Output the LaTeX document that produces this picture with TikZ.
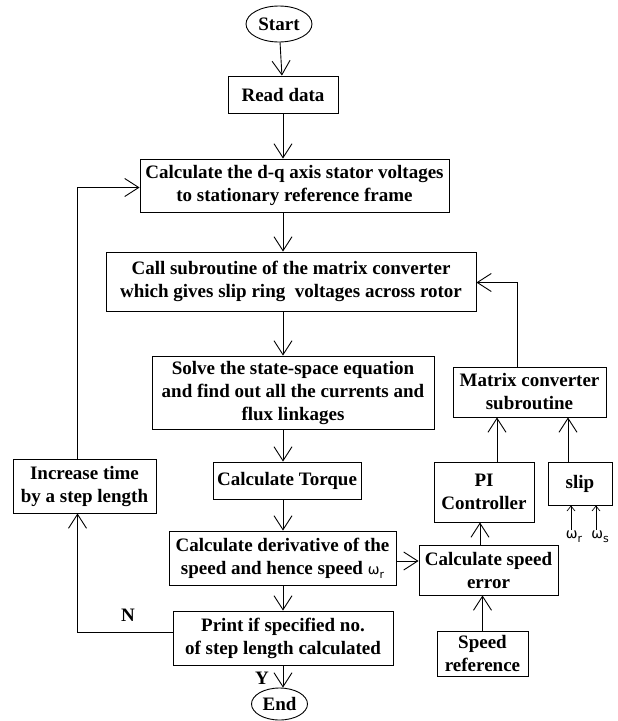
\documentclass[tikz,border=0pt]{standalone}
\usepackage{fontspec}
\setmainfont{Liberation Serif}
\newfontfamily\greekfont{DejaVu Sans}
\usetikzlibrary{positioning,arrows.meta,shapes.geometric}
\tikzset{
  flowarrow/.style={-{Straight Barb[length=14pt,width=18pt]}, line width=0.9pt},
  tinyarrow/.style={-{Straight Barb[length=5pt,width=8pt]}, line width=0.7pt},
  procbox/.style={draw, line width=0.9pt, inner sep=2pt, align=center, font=\fontsize{19}{23}\selectfont\bfseries},
  termnode/.style={draw, ellipse, line width=0.9pt, inner sep=0pt, font=\fontsize{19}{23}\selectfont\bfseries},
  yesno/.style={font=\fontsize{19}{23}\selectfont\bfseries, inner sep=0pt},
  omeganode/.style={inner sep=0pt}
}
\newcommand{\omegasub}[1]{{\greekfont\mdseries\fontsize{14}{16}\selectfont ω\raisebox{-0.5ex}{\fontsize{11}{12}\selectfont #1}}}

\begin{document}
\begin{tikzpicture}[x=1pt, y=-1pt]
  \useasboundingbox (0,0) rectangle (618,721);
  % main column
  \node[termnode, minimum width=66pt, minimum height=36pt] (start) at (279,24) {Start};
  \node[procbox, minimum width=110pt, minimum height=37pt] (read) at (283,94.5) {Read data};
  \node[procbox, minimum width=309pt, minimum height=53pt] (calcdq) at (294.5,185.5) {Calculate the d-q axis stator voltages\\to stationary reference frame};
  \node[procbox, minimum width=370pt, minimum height=59pt] (callsub) at (291,281.5) {Call subroutine of the matrix converter\\which gives slip ring\ \ voltages across rotor};
  \node[procbox, minimum width=282pt, minimum height=73pt] (solve) at (293,392.5) {Solve the state-space equation\\and find out all the currents and\\flux linkages};
  \node[procbox, minimum width=148pt, minimum height=37pt] (torque) at (287,480.5) {Calculate Torque};
  \node[procbox, minimum width=227pt, minimum height=54pt] (deriv) at (282.5,558) {Calculate derivative of the\\speed and hence speed \omegasub{r}};
  \node[procbox, minimum width=220pt, minimum height=54pt] (print) at (283,638) {Print if specified no.\\of step length calculated};
  \node[termnode, minimum width=56pt, minimum height=32pt] (end) at (279.5,704) {End};
  % loop box
  \node[procbox, minimum width=143pt, minimum height=54pt] (incr) at (84.5,486) {Increase time\\by a step length};
  % control side
  \node[procbox, minimum width=153pt, minimum height=50pt] (mconv) at (529.5,392) {Matrix converter\\subroutine};
  \node[procbox, minimum width=100pt, minimum height=60pt] (pi) at (484,492) {PI\\Controller};
  \node[procbox, minimum width=64pt, minimum height=43pt] (slip) at (580,483.5) {slip};
  \node[procbox, minimum width=139pt, minimum height=50pt] (spderr) at (488.5,570) {Calculate speed\\error};
  \node[procbox, minimum width=91pt, minimum height=45pt] (spdref) at (482.5,653.5) {Speed\\reference};
  \node[omeganode] (wr) at (574,537) {\omegasub{r}};
  \node[omeganode] (ws) at (600,537) {\omegasub{s}};
  \node[yesno] (nlab) at (128,615) {N};
  \node[yesno] (ylab) at (262,678) {Y};

  \draw[flowarrow] (start) -- (read);
  \draw[flowarrow] (read) -- (calcdq.north -| read);
  \draw[flowarrow] (calcdq.south -| read) -- (callsub.north -| read);
  \draw[flowarrow] (callsub.south -| read) -- (solve.north -| read);
  \draw[flowarrow] (solve.south -| read) -- (torque.north -| read);
  \draw[flowarrow] (torque.south -| read) -- (deriv.north -| read);
  \draw[flowarrow] (deriv.south -| read) -- (print.north -| read);
  \draw[flowarrow] (print.south -| read) -- (end.north -| read);
  \draw[flowarrow] ([yshift=6pt]print.west) -| ([xshift=-7pt]incr.south);
  \draw[flowarrow] ([xshift=-7pt]incr.north) |- ([yshift=-2pt]calcdq.west);
  \draw[flowarrow] ([xshift=-12pt]mconv.north) |- ([yshift=-1pt]callsub.east);
  \draw[flowarrow] ([xshift=13pt]pi.north) -- ([xshift=13pt]pi.north |- mconv.south);
  \draw[flowarrow] ([xshift=-12pt]slip.north) -- ([xshift=-12pt]slip.north |- mconv.south);
  \draw[flowarrow] ([xshift=-4pt]pi.south |- spderr.north) -- ([xshift=-4pt]pi.south);
  \draw[flowarrow] ([yshift=-3pt]deriv.east) -- ([yshift=-3pt]deriv.east -| spderr.west);
  \draw[flowarrow] (spdref.north) -- (spdref.north |- spderr.south);
  \draw[tinyarrow] ([xshift=-3pt,yshift=1pt]wr.north) -- ([xshift=-3pt]wr.north |- slip.south);
  \draw[tinyarrow] ([xshift=-4pt,yshift=1pt]ws.north) -- ([xshift=-4pt]ws.north |- slip.south);
\end{tikzpicture}
\end{document}
